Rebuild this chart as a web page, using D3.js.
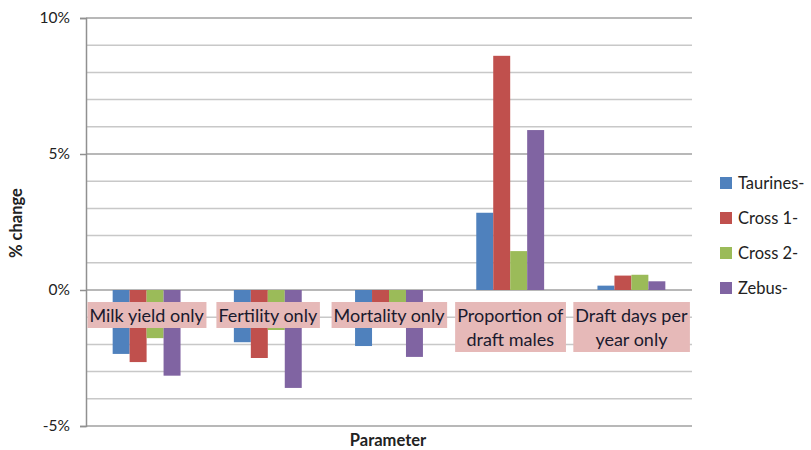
<!DOCTYPE html>
<html><head><meta charset="utf-8">
<script src="https://cdn.jsdelivr.net/npm/d3@7"></script>
<style>body{margin:0;background:#fff}svg{display:block}</style>
</head><body>
<script>
const categories = ["Milk yield only","Fertility only","Mortality only","Proportion of draft males","Draft days per year only"];
const categoryLines = [["Milk yield only"],["Fertility only"],["Mortality only"],["Proportion of","draft males"],["Draft days per","year only"]];
const seriesNames = ["Taurines-","Cross 1-","Cross 2-","Zebus-"];
const taurines = [-2.35,-1.92,-2.06,2.84,0.16];
const cross1   = [-2.65,-2.5,-0.9,8.61,0.53];
const cross2   = [-1.77,-1.47,-0.8,1.43,0.56];
const zebus    = [-3.15,-3.6,-2.46,5.88,0.32];
const yTicks = [-5,0,5,10];
const colors = ["#4f81bd","#c0504d","#9bbb59","#8064a2"];
const series = [taurines,cross1,cross2,zebus];

(function(){
const W=811,H=450;
const svg=d3.select("body").append("svg").attr("width",W).attr("height",H);
const font="Lato, 'Open Sans', sans-serif";
const pl=86,pr=692,pt=18,pb=426;
const y=d3.scaleLinear().domain([-5,10]).range([pb,pt]);
const x0=d3.scaleBand().domain(categories).range([pl,pr]).paddingInner(0.44).paddingOuter(0.22);
const x1=d3.scaleBand().domain(seriesNames).range([0,x0.bandwidth()]);

svg.append("g").selectAll("line").data(d3.range(-5,10.01,1)).join("line")
  .attr("x1",pl).attr("x2",pr).attr("y1",d=>y(d)).attr("y2",d=>y(d))
  .attr("stroke",d=>d%5===0?"#a0a0a0":"#c8c8c8").attr("stroke-width",1.5);

const yAxis=d3.axisLeft(y).tickValues(yTicks).tickFormat(d=>d+"%").tickSize(6).tickPadding(10);
const ga=svg.append("g").attr("transform",`translate(${pl},0)`).call(yAxis);
ga.select(".domain").attr("stroke","#909090").attr("stroke-width",1.5);
ga.selectAll(".tick line").attr("stroke","#909090").attr("stroke-width",1.5);
ga.selectAll(".tick text").attr("font-family",font).attr("font-size",15.5).attr("fill","#222");

const g=svg.append("g");
series.forEach((vals,si)=>{
  g.append("g").selectAll("rect").data(vals).join("rect")
    .attr("x",(d,i)=>x0(categories[i])+x1(seriesNames[si]))
    .attr("width",x1.bandwidth())
    .attr("y",d=>y(Math.max(0,d)))
    .attr("height",d=>Math.abs(y(d)-y(0)))
    .attr("fill",colors[si]);
});

categoryLines.forEach((lines,i)=>{
  const cx=x0(categories[i])+x0.bandwidth()/2;
  const lg=svg.append("g");
  const t=lg.append("text").attr("font-family",font).attr("font-size",18).attr("fill","#1a1a2e").attr("text-anchor","middle");
  lines.forEach((l,j)=>t.append("tspan").attr("x",cx).attr("y",y(0)+32+j*24).text(l));
  const bb=t.node().getBBox();
  lg.insert("rect","text").attr("x",bb.x-2).attr("y",y(0)+12).attr("width",bb.width+4).attr("height",lines.length*24+2).attr("fill","#e6b9b8");
});

const leg=svg.append("g");
seriesNames.forEach((n,i)=>{
  const ly=183+i*35;
  leg.append("rect").attr("x",720).attr("y",ly-6).attr("width",12).attr("height",12).attr("fill",colors[i]);
  leg.append("text").attr("x",738).attr("y",ly+5.5).attr("font-family",font).attr("font-size",16.5).attr("fill","#222").text(n);
});

svg.append("text").attr("transform","translate(22,223) rotate(-90)").attr("text-anchor","middle")
  .attr("font-family",font).attr("font-size",16.5).attr("font-weight","bold").attr("fill","#222").text("% change");
svg.append("text").attr("x",388).attr("y",446).attr("text-anchor","middle")
  .attr("font-family",font).attr("font-size",16.5).attr("font-weight","bold").attr("fill","#222").text("Parameter");
})();
</script>
</body></html>
